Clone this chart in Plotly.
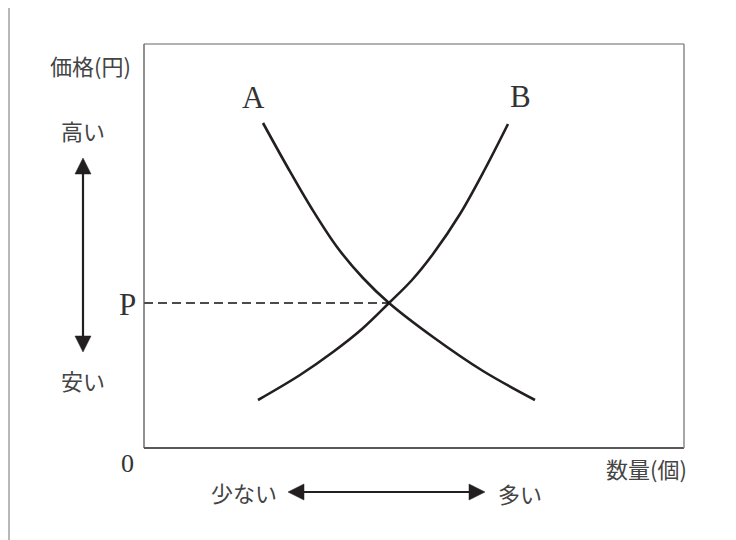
import plotly.graph_objects as go

# Curve data (quantity, price) in chart units
curve_a_x = [119, 144, 168, 193, 219, 245, 289, 339, 391]
curve_a_y = [325, 280, 239, 201, 170, 145, 111, 77, 48]
curve_b_x = [114, 156, 189, 218, 245, 268, 289, 316, 341, 364]
curve_b_y = [48, 73, 96, 119, 145, 168, 194, 234, 279, 324]
eq_x = 245
eq_y = 145

# page body has an 8px margin: the figure is drawn 8px smaller and the
# reference pixel coordinates below are page coordinates
OFF = 8
W, H = 736 - OFF, 540 - OFF
L, R, T, B = 144, 684, 44, 448  # plot box in page pixels


def px(x):
    return (x - L) / (R - L)


def py(y):
    return (B - y) / (B - T)


fig = go.Figure()
line_col = "#231f20"
fig.add_trace(go.Scatter(x=curve_a_x, y=curve_a_y, mode="lines",
                         line=dict(color=line_col, width=2.6, shape="spline", smoothing=1.0),
                         hoverinfo="skip", showlegend=False))
fig.add_trace(go.Scatter(x=curve_b_x, y=curve_b_y, mode="lines",
                         line=dict(color=line_col, width=2.6, shape="spline", smoothing=1.0),
                         hoverinfo="skip", showlegend=False))
fig.add_trace(go.Scatter(x=[0, eq_x], y=[eq_y, eq_y], mode="lines",
                         line=dict(color="#111111", width=1.4, dash="9px,5px"),
                         hoverinfo="skip", showlegend=False))

shapes = []
# outer frame (left and top only)
shapes.append(dict(type="line", xref="paper", yref="paper", x0=px(9), y0=py(4), x1=px(9), y1=py(545),
                   line=dict(color="#a0a0a0", width=1.5)))
shapes.append(dict(type="line", xref="paper", yref="paper", x0=px(9), y0=py(4), x1=px(740), y1=py(4),
                   line=dict(color="#707070", width=1.2)))
# plot box
shapes.append(dict(type="line", xref="paper", yref="paper", x0=0, y0=0, x1=1, y1=0,
                   line=dict(color="#222222", width=1.6)))
shapes.append(dict(type="line", xref="paper", yref="paper", x0=0, y0=0, x1=0, y1=1,
                   line=dict(color="#555555", width=1.3)))
shapes.append(dict(type="line", xref="paper", yref="paper", x0=0, y0=1, x1=1, y1=1,
                   line=dict(color="#666666", width=1.2)))
shapes.append(dict(type="line", xref="paper", yref="paper", x0=1, y0=0, x1=1, y1=1,
                   line=dict(color="#8a8a8a", width=1.5)))


def tri(p1, p2, p3):
    path = "M {} {} L {} {} L {} {} Z".format(px(p1[0]), py(p1[1]), px(p2[0]), py(p2[1]),
                                             px(p3[0]), py(p3[1]))
    return dict(type="path", xref="paper", yref="paper", path=path,
                fillcolor=line_col, line=dict(color=line_col, width=0.5))


# vertical arrow
shapes.append(dict(type="line", xref="paper", yref="paper", x0=px(83), y0=py(170), x1=px(83), y1=py(340),
                   line=dict(color=line_col, width=2.2)))
shapes.append(tri((83, 158), (75, 174), (91, 174)))
shapes.append(tri((83, 352), (75, 336), (91, 336)))
# horizontal arrow
shapes.append(dict(type="line", xref="paper", yref="paper", x0=px(300), y0=py(492), x1=px(473), y1=py(492),
                   line=dict(color=line_col, width=2.2)))
shapes.append(tri((288, 492), (304, 484), (304, 500)))
shapes.append(tri((485, 492), (469, 484), (469, 500)))

jp_col = "#444444"
serif_col = "#333333"
jp = "Noto Sans CJK JP"
serif = "Liberation Serif"
annots = [
    ("価格(円)", 90, 65, jp, 22, jp_col),
    ("高い", 83, 130, jp, 22, jp_col),
    ("安い", 83, 380, jp, 22, jp_col),
    ("数量(個)", 646, 468, jp, 22, jp_col),
    ("少ない", 244, 492, jp, 22, jp_col),
    ("多い", 520, 493, jp, 22, jp_col),
    ("A", 253, 97, serif, 31, serif_col),
    ("B", 520, 96, serif, 31, serif_col),
    ("P", 127, 304, serif, 31, serif_col),
    ("0", 127, 463, serif, 26, serif_col),
]
annotations = []
for t, x, y, f, s, c in annots:
    annotations.append(dict(text=t, x=px(x), y=py(y), xref="paper", yref="paper",
                            showarrow=False, xanchor="center", yanchor="middle",
                            font=dict(family=f, size=s, color=c)))

fig.update_layout(
    width=W, height=H,
    margin=dict(l=L - OFF, r=736 - R, t=T - OFF, b=540 - B),
    paper_bgcolor="white", plot_bgcolor="white",
    xaxis=dict(range=[0, R - L], visible=False, fixedrange=True),
    yaxis=dict(range=[0, B - T], visible=False, fixedrange=True),
    shapes=shapes, annotations=annotations, showlegend=False,
)
fig.write_html("out.html")
